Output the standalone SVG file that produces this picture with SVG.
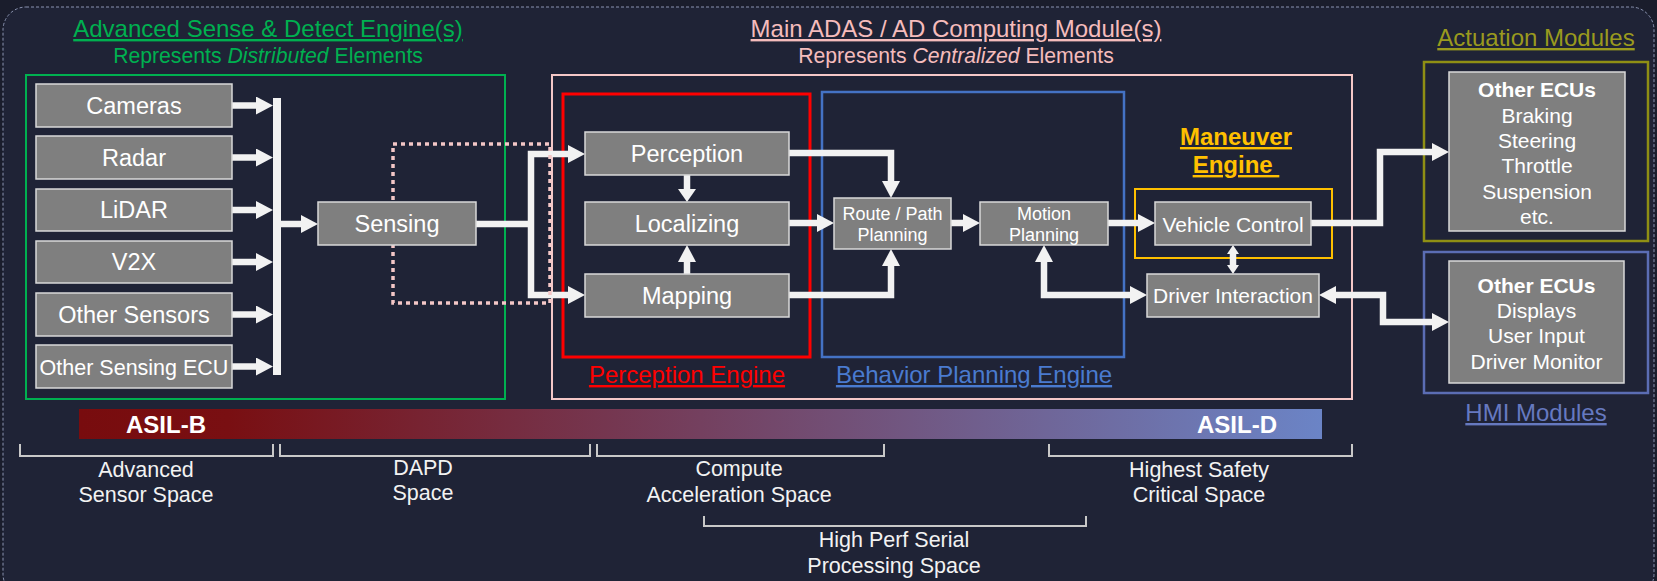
<svg xmlns="http://www.w3.org/2000/svg" width="1657" height="581" viewBox="0 0 1657 581">
  <style>
    .t { font-family: "Liberation Sans", Arial, sans-serif; }
    .node rect { fill: #7f7f7f; stroke: #d9d9d9; stroke-width: 1.5; }
    .node text { fill: #ffffff; font-size: 23.5px; text-anchor: middle; }
    .frame { fill: none; }
    .title { font-size: 24px; text-anchor: middle; text-decoration: underline; }
    .sub { font-size: 21.2px; text-anchor: middle; }
    .conn path { fill: none; stroke: #f2f2f2; stroke-width: 6.5; stroke-linejoin: miter; }
    .brk { fill: none; stroke: #c8c8c8; stroke-width: 2; }
    .space { fill: #f2f2f2; font-size: 21.5px; text-anchor: middle; }
    .asil { fill: #ffffff; font-size: 24px; font-weight: bold; }
  </style>
  <defs>
    <marker id="ah" markerUnits="userSpaceOnUse" viewBox="0 0 17 18" markerWidth="17" markerHeight="18" refX="0" refY="9" orient="auto-start-reverse">
      <path d="M0,0 L17,9 L0,18 z" fill="#f2f2f2"/>
    </marker>
    <marker id="ahs" markerUnits="userSpaceOnUse" viewBox="0 0 13 18" markerWidth="13" markerHeight="18" refX="0" refY="9" orient="auto-start-reverse">
      <path d="M0,0 L13,9 L0,18 z" fill="#f2f2f2"/>
    </marker>
    <marker id="aht" markerUnits="userSpaceOnUse" viewBox="0 0 9 12" markerWidth="9" markerHeight="12" refX="0" refY="6" orient="auto-start-reverse">
      <path d="M0,0 L9,6 L0,12 z" fill="#f2f2f2"/>
    </marker>
    <linearGradient id="asilGrad" x1="0" y1="0" x2="1" y2="0">
      <stop offset="0" stop-color="#780c0e"/>
      <stop offset="0.12" stop-color="#790f12"/>
      <stop offset="0.5" stop-color="#74405f"/>
      <stop offset="1" stop-color="#6b84c6"/>
    </linearGradient>
  </defs>

  <!-- backdrop -->
  <rect x="0" y="0" width="1657" height="581" fill="#1a1d2c"/>
  <rect x="3" y="7" width="1651" height="590" rx="23" ry="23" fill="#1f2336" stroke="#8a93b0" stroke-width="1" stroke-dasharray="3 2"/>

  <!-- section frames and their captions -->
  <g id="sense-detect-frame" class="t">
    <rect class="frame" x="26" y="75" width="479" height="324" stroke="#00b050" stroke-width="2"/>
    <text class="title" x="268" y="37" fill="#00b050">Advanced Sense &amp; Detect Engine(s)</text>
    <text class="sub" x="268" y="63" fill="#00b050">Represents <tspan font-style="italic">Distributed</tspan> Elements</text>
  </g>
  <g id="main-computing-frame" class="t">
    <rect class="frame" x="552" y="75" width="800" height="324" stroke="#f4c7c7" stroke-width="2"/>
    <text class="title" x="956" y="37" fill="#f5bcbc">Main ADAS / AD Computing Module(s)</text>
    <text class="sub" x="956" y="63" fill="#f5bcbc">Represents <tspan font-style="italic">Centralized</tspan> Elements</text>
  </g>
  <g id="perception-engine-frame" class="t">
    <rect class="frame" x="563" y="94" width="247" height="263" stroke="#ff0000" stroke-width="3"/>
    <text class="title" x="687" y="383" fill="#ff0000">Perception Engine</text>
  </g>
  <g id="behavior-planning-frame" class="t">
    <rect class="frame" x="822" y="92" width="302" height="265" stroke="#4472c4" stroke-width="2.5"/>
    <text class="title" x="974" y="383" fill="#4a7bd0">Behavior Planning Engine</text>
  </g>
  <g id="maneuver-engine-frame" class="t">
    <rect class="frame" x="1135" y="189" width="197" height="69" stroke="#ffc000" stroke-width="2"/>
    <text class="title" x="1236" y="145" fill="#ffc000" font-weight="bold">Maneuver</text>
    <text class="title" x="1236" y="173" fill="#ffc000" font-weight="bold" xml:space="preserve">Engine </text>
  </g>
  <g id="actuation-frame" class="t">
    <rect class="frame" x="1424" y="62" width="224" height="179" stroke="#8f8f14" stroke-width="2.5"/>
    <text class="title" x="1536" y="46" fill="#9a9a1e">Actuation Modules</text>
  </g>
  <g id="hmi-frame" class="t">
    <rect class="frame" x="1424" y="252" width="224" height="141" stroke="#5b6db4" stroke-width="2.5"/>
    <text class="title" x="1536" y="421" fill="#6679c0">HMI Modules</text>
  </g>

  <!-- safety level scale and processing spaces -->
  <g id="asil-scale" class="t">
    <rect x="79" y="409" width="1243" height="30" fill="url(#asilGrad)"/>
    <text class="asil" x="126" y="433">ASIL-B</text>
    <text class="asil" x="1197" y="433">ASIL-D</text>
  </g>
  <g id="spaces" class="t">
    <path class="brk" d="M20,444 V456 H273 V444"/>
    <path class="brk" d="M280,444 V456 H590 V444"/>
    <path class="brk" d="M597,444 V456 H884 V444"/>
    <path class="brk" d="M1049,444 V456 H1352 V444"/>
    <path class="brk" d="M704,516 V526 H1086 V516"/>
    <text class="space" x="146" y="477">Advanced</text>
    <text class="space" x="146" y="502">Sensor Space</text>
    <text class="space" x="423" y="475">DAPD</text>
    <text class="space" x="423" y="500">Space</text>
    <text class="space" x="739" y="476">Compute</text>
    <text class="space" x="739" y="502">Acceleration Space</text>
    <text class="space" x="1199" y="477">Highest Safety</text>
    <text class="space" x="1199" y="502">Critical Space</text>
    <text class="space" x="894" y="547">High Perf Serial</text>
    <text class="space" x="894" y="573">Processing Space</text>
  </g>

  <!-- connectors -->
  <g id="connectors" class="conn">
    <rect x="273" y="98" width="8" height="277" fill="#f2f2f2"/>
    <path d="M232,105.5 H256" marker-end="url(#ah)"/>
    <path d="M232,157.5 H256" marker-end="url(#ah)"/>
    <path d="M232,210 H256" marker-end="url(#ah)"/>
    <path d="M232,262 H256" marker-end="url(#ah)"/>
    <path d="M232,314.5 H256" marker-end="url(#ah)"/>
    <path d="M232,366.5 H256" marker-end="url(#ah)"/>
    <path d="M281,224 H301" marker-end="url(#ah)"/>
    <path d="M476,224 H531"/>
    <path d="M568,154 H531 V295 H568" marker-start="url(#ah)" marker-end="url(#ah)"/>
    <path d="M687,175 V189" marker-end="url(#ahs)"/>
    <path d="M687,274 V262" marker-end="url(#ah)"/>
    <path d="M789,153 H891 V181" marker-end="url(#ah)"/>
    <path d="M789,223 H817" marker-end="url(#ah)"/>
    <path d="M789,295 H891 V266" marker-end="url(#ah)"/>
    <path d="M951,223 H963" marker-end="url(#ah)"/>
    <path d="M1044,262 V295 H1130" marker-start="url(#ah)" marker-end="url(#ah)"/>
    <path d="M1108,223 H1138" marker-end="url(#ah)"/>
    <path d="M1233,254 V265" stroke-width="4" marker-start="url(#aht)" marker-end="url(#aht)"/>
    <path d="M1311,223 H1380 V152 H1432" marker-end="url(#ah)"/>
    <path d="M1336,295 H1383 V322 H1432" marker-start="url(#ah)" marker-end="url(#ah)"/>
  </g>

  <!-- dotted outline spanning the sensing hand-off -->
  <rect x="393" y="144" width="157" height="159" fill="none" stroke="#f4c7c7" stroke-width="3.5" stroke-dasharray="4 4"/>

  <!-- nodes -->
  <g id="cameras" class="node t"><rect x="36" y="84" width="196" height="43"/><text x="134" y="114">Cameras</text></g>
  <g id="radar" class="node t"><rect x="36" y="136" width="196" height="43"/><text x="134" y="166">Radar</text></g>
  <g id="lidar" class="node t"><rect x="36" y="189" width="196" height="42"/><text x="134" y="218">LiDAR</text></g>
  <g id="v2x" class="node t"><rect x="36" y="241" width="196" height="42"/><text x="134" y="270">V2X</text></g>
  <g id="other-sensors" class="node t"><rect x="36" y="293" width="196" height="43"/><text x="134" y="323">Other Sensors</text></g>
  <g id="other-sensing-ecu" class="node t"><rect x="36" y="345" width="196" height="43"/><text x="134" y="375" style="font-size:21.5px">Other Sensing ECU</text></g>
  <g id="sensing" class="node t"><rect x="318" y="202" width="158" height="43"/><text x="397" y="232">Sensing</text></g>
  <g id="perception" class="node t"><rect x="585" y="132" width="204" height="43"/><text x="687" y="162">Perception</text></g>
  <g id="localizing" class="node t"><rect x="585" y="202" width="204" height="43"/><text x="687" y="232">Localizing</text></g>
  <g id="mapping" class="node t"><rect x="585" y="274" width="204" height="43"/><text x="687" y="304">Mapping</text></g>
  <g id="route-path-planning" class="node t"><rect x="834" y="198" width="117" height="51"/><text x="892.5" y="220" style="font-size:18px">Route / Path</text><text x="892.5" y="241" style="font-size:18px">Planning</text></g>
  <g id="motion-planning" class="node t"><rect x="980" y="202" width="128" height="43"/><text x="1044" y="220" style="font-size:18px">Motion</text><text x="1044" y="241" style="font-size:18px">Planning</text></g>
  <g id="vehicle-control" class="node t"><rect x="1155" y="202" width="156" height="43"/><text x="1233" y="232" style="font-size:21px">Vehicle Control</text></g>
  <g id="driver-interaction" class="node t"><rect x="1147" y="274" width="172" height="43"/><text x="1233" y="303" style="font-size:21px">Driver Interaction</text></g>
  <g id="actuation-ecus" class="node t">
    <rect x="1449" y="72" width="176" height="159"/>
    <text x="1537" y="97" style="font-size:21px;font-weight:bold">Other ECUs</text>
    <text x="1537" y="123" style="font-size:21px">Braking</text>
    <text x="1537" y="148" style="font-size:21px">Steering</text>
    <text x="1537" y="173" style="font-size:21px">Throttle</text>
    <text x="1537" y="199" style="font-size:21px">Suspension</text>
    <text x="1537" y="224" style="font-size:21px">etc.</text>
  </g>
  <g id="hmi-ecus" class="node t">
    <rect x="1449" y="261" width="175" height="122"/>
    <text x="1536.5" y="293" style="font-size:21px;font-weight:bold">Other ECUs</text>
    <text x="1536.5" y="318" style="font-size:21px">Displays</text>
    <text x="1536.5" y="343" style="font-size:21px">User Input</text>
    <text x="1536.5" y="369" style="font-size:21px">Driver Monitor</text>
  </g>
</svg>
